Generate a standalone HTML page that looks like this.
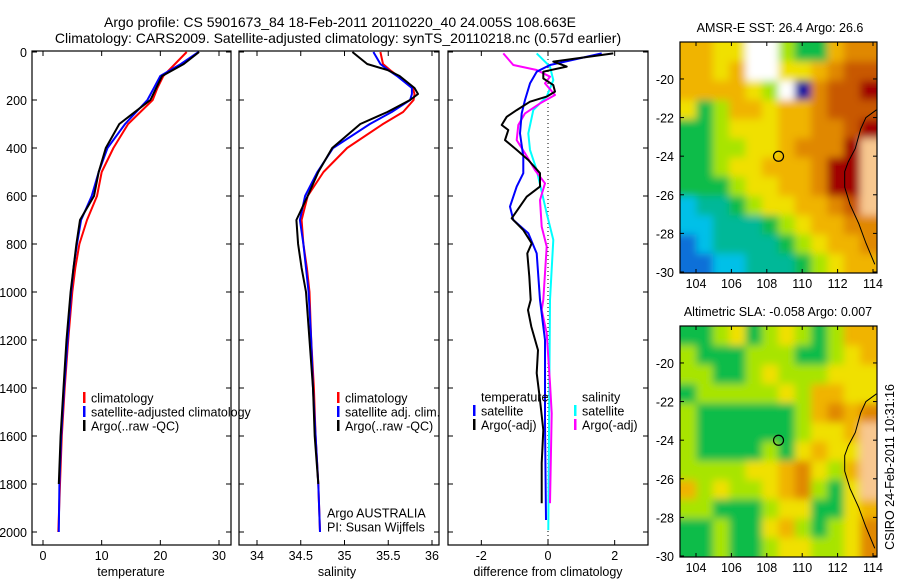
<!DOCTYPE html>
<html><head><meta charset="utf-8">
<style>
html,body{margin:0;padding:0;background:#fff;}
svg{display:block;font-family:"Liberation Sans",sans-serif;}
</style></head>
<body>
<svg id="fig" width="900" height="580" viewBox="0 0 900 580">
<defs>
<filter id="blur" x="-10%" y="-10%" width="120%" height="120%"><feGaussianBlur stdDeviation="4"/></filter>
<clipPath id="clip-sst"><rect x="680" y="42" width="197" height="231"/></clipPath>
<clipPath id="clip-sla"><rect x="680" y="326" width="197" height="231"/></clipPath>
</defs>
<text x="340" y="27" font-size="14" text-anchor="middle">Argo profile: CS 5901673_84 18-Feb-2011 20110220_40 24.005S 108.663E</text>
<text x="338" y="43" font-size="14" text-anchor="middle">Climatology: CARS2009. Satellite-adjusted climatology: synTS_20110218.nc (0.57d earlier)</text>
<text x="780" y="32" font-size="12.5" text-anchor="middle">AMSR-E SST: 26.4  Argo: 26.6</text>
<text x="778" y="316" font-size="12.5" text-anchor="middle">Altimetric SLA: -0.058  Argo: 0.007</text>
<text x="131" y="576" font-size="12.5" text-anchor="middle">temperature</text>
<text x="337" y="576" font-size="12.5" text-anchor="middle">salinity</text>
<text x="548" y="576" font-size="12.5" text-anchor="middle">difference from climatology</text>
<text transform="translate(894,467) rotate(-90)" font-size="12.5" text-anchor="middle">CSIRO 24-Feb-2011 10:31:16</text>
<g id="layer"></g>
</svg>
<script>
// ---------- data ----------
const depths = [0,50,100,150,200,300,400,500,600,700,800,900,1000,1200,1400,1600,1800,2000];
const tempClim = [24.5,22.5,20.5,19.5,18.7,14.5,12,10,9.2,7.5,6.2,5.5,5.0,4.3,3.7,3.2,2.9,2.6];
const tempSat  = [26.5,23.5,20,18.9,17.8,14,11,9.5,8.3,6.5,5.8,5.2,4.8,4.2,3.6,3.1,2.8,2.7];
const argoDepths = [0,50,100,150,200,300,400,500,600,700,800,900,1000,1200,1400,1600,1800];
const tempArgo = [26.6,24,20.3,19.3,18.3,13,10.7,9.5,8.7,6.3,5.7,5.2,4.7,4.0,3.5,3.0,2.7];
const salDepths = [0,50,75,100,150,175,200,250,300,400,500,600,700,800,900,1000,1200,1400,1600,1800,2000];
const salClim = [35.41,35.44,35.52,35.61,35.78,35.80,35.79,35.67,35.44,35.03,34.76,34.58,34.51,34.53,34.57,34.60,34.62,34.65,34.67,34.70,34.72];
const salSat  = [35.33,35.41,35.50,35.60,35.77,35.77,35.75,35.54,35.29,34.87,34.69,34.55,34.49,34.53,34.56,34.59,34.62,34.64,34.67,34.70,34.72];
const salArgo = [35.09,35.26,35.49,35.63,35.80,35.84,35.75,35.49,35.18,34.86,34.70,34.58,34.45,34.47,34.51,34.56,34.60,34.64,34.66,34.70,34.71];
const dTempArgoDepth = [6,40,61,82,110,138,165,186,207,242,270,304,325,367,408,450,505,561,603,693,742,797,839,936,1033,1075,1144,1242,1338,1450,1575,1713,1880];
const dTempArgo = [1.96,0.16,0.56,-0.14,-0.14,0.16,0.21,-0.04,-0.54,-0.94,-1.24,-1.39,-1.19,-1.29,-0.94,-0.59,-0.24,-0.24,-0.64,-1.09,-0.74,-0.49,-0.62,-0.56,-0.52,-0.6,-0.5,-0.3,-0.34,-0.24,-0.14,-0.19,-0.19];
const dTempSatDepth = [6,54,82,131,200,256,339,436,505,561,644,700,755,839,1033,1200,1547,1950];
const dTempSat = [1.61,0.06,-0.34,-0.54,-0.69,-0.79,-0.84,-0.74,-0.74,-0.94,-1.14,-1.04,-0.59,-0.34,-0.24,-0.09,-0.09,-0.06];
const dSalArgoDepth = [6,54,75,103,131,179,214,256,304,367,422,492,547,617,728,811,1033,1075,1172,1380,1505,1880];
const dSalArgo = [-1.34,-1.04,-0.34,0.06,-0.09,0.21,-0.24,-0.69,-0.89,-0.94,-0.69,-0.39,-0.09,-0.24,-0.19,-0.04,-0.14,-0.19,-0.04,0.06,0.11,0.06];
const dSalSatDepth = [6,61,117,186,242,339,408,492,672,783,1033,1408,1992];
const dSalSat = [-0.34,0.06,0.16,-0.04,-0.44,-0.59,-0.54,-0.34,-0.04,0.16,0.06,0.04,0.01];
const depthTicks = [0,200,400,600,800,1000,1200,1400,1600,1800,2000];
const tempTicks = [0,10,20,30];
const salTicks = [34,34.5,35,35.5,36];
const salTickLabels = ["34","34.5","35","35.5","36"];
const diffTicks = [-2,0,2];
const lonTicks = [104,106,108,110,112,114];
const latTicks = [-20,-22,-24,-26,-28,-30];
const argoLon = 108.663, argoLat = -24.005;
const sstGrid = [
[7,7,6,6,-1,-1,5,4,4,7,8,8],
[7,7,6,7,-1,-1,6,6,7,8,9,9],
[7,7,7,7,6,5,-1,0,8,9,9,10],
[6,4,5,7,7,6,7,7,8,9,9,9],
[4,4,5,6,6,6,7,7,8,8,9,10],
[4,4,5,5,6,6,7,8,8,8,10,11],
[4,4,5,6,6,7,7,7,8,10,10,11],
[4,4,4,5,6,6,7,7,8,10,10,11],
[2,3,3,4,5,6,6,7,7,8,9,11],
[2,2,3,3,3,4,5,6,7,7,8,8],
[1,2,3,3,3,3,4,5,6,7,7,8],
[1,1,2,2,3,3,3,4,5,6,7,7]];
const slaGrid = [
[4,4,5,6,4,5,6,5,4,5,7,7],
[5,4,4,4,5,5,5,4,4,5,6,7],
[5,5,4,4,5,6,5,5,5,6,6,6],
[4,5,5,5,5,5,6,5,7,7,6,6],
[5,4,4,4,4,4,4,5,7,8,7,8],
[5,4,4,4,4,4,4,5,6,6,7,11],
[5,4,4,4,4,5,4,6,7,6,6,11],
[5,5,5,5,6,6,7,8,6,5,7,11],
[7,5,6,5,5,6,7,8,5,4,6,11],
[5,5,4,4,4,5,6,6,4,4,6,7],
[4,4,5,4,4,6,7,5,4,5,6,8],
[4,4,5,4,4,5,6,6,5,5,6,8]];
const coastLon = [114.2,113.6,113.3,113.0,112.6,112.4,112.4,112.7,113.2,113.6,114.1];
const coastLat = [-21.6,-22.0,-22.6,-23.6,-24.3,-24.8,-25.6,-26.5,-27.5,-28.5,-29.6];

// ---------- helpers ----------
const NS="http://www.w3.org/2000/svg";
const layer=document.getElementById('layer');
function mk(tag,attrs,parent){const e=document.createElementNS(NS,tag);for(const k in attrs)e.setAttribute(k,attrs[k]);(parent||layer).appendChild(e);return e;}
function lin(d0,d1,r0,r1){return v=>r0+(v-d0)*(r1-r0)/(d1-d0);}
const PT=51, PB=545;
const yD = lin(0,2000,52,532);

function panel(name,x0,x1,xs,xticks,xlabels,showY){
  const g=mk('g',{});
  
  
  const r=mk('rect',{x:x0,y:PT,width:x1-x0,height:PB-PT,fill:'none',stroke:'#000','stroke-width':1.2},g);
  
  
  depthTicks.forEach(d=>{
    const y=yD(d);
    mk('line',{x1:x0,x2:x0+5,y1:y,y2:y,stroke:'#000'},g);
    mk('line',{x1:x1,x2:x1-5,y1:y,y2:y,stroke:'#000'},g);
    if(showY){const t=mk('text',{x:x0-5,y:y+5,'font-size':12.5,'text-anchor':'end'},g);t.textContent=d;
      
      }
  });
  xticks.forEach((v,i)=>{
    const x=xs(v);
    mk('line',{x1:x,x2:x,y1:PB,y2:PB-5,stroke:'#000'},g);
    mk('line',{x1:x,x2:x,y1:PT,y2:PT+5,stroke:'#000'},g);
    const t=mk('text',{x:x,y:PB+15,'font-size':12.5,'text-anchor':'middle'},g);t.textContent=xlabels[i];
    
    
  });
  return g;
}
function line(g,xs,vals,deps,color,w,name){
  const pts=vals.map((v,i)=>xs(v).toFixed(1)+','+yD(deps[i]).toFixed(1)).join(' ');
  const p=mk('polyline',{points:pts,fill:'none',stroke:color,'stroke-width':w,'stroke-linejoin':'round'},g);
  
  
}
function legend(g,x,y,items,name){
  items.forEach((it,i)=>{
    const yy=y+i*14;
    if(it[1])mk('rect',{x:x,y:yy-6,width:2.5,height:11,fill:it[1]},g);
    const t=mk('text',{x:x+8,y:yy+4.5,'font-size':12.5},g);t.textContent=it[0];
    
    
  });
}

// temperature panel
const xT=lin(0,30,43,219);
const gT=panel('temperature',32,231,xT,tempTicks,tempTicks.map(String),true);
line(gT,xT,tempClim,depths,'#ff0000',2,'temperature-climatology-line');
line(gT,xT,tempSat,depths,'#0000ff',2,'temperature-satellite-line');
line(gT,xT,tempArgo,argoDepths,'#000',2,'temperature-argo-line');
legend(gT,83,398,[['climatology','#f00'],['satellite-adjusted climatology','#00f'],['Argo(..raw -QC)','#000']],'temperature-legend');

// salinity panel
const xS=lin(34,36,257,432);
const gS=panel('salinity',239,439,xS,salTicks,salTickLabels,false);
line(gS,xS,salClim,salDepths,'#ff0000',2,'salinity-climatology-line');
line(gS,xS,salSat,salDepths,'#0000ff',2,'salinity-satellite-line');
line(gS,xS,salArgo.slice(0,20),salDepths.slice(0,20),'#000',2,'salinity-argo-line');
legend(gS,337,398,[['climatology','#f00'],['satellite adj. clim.','#00f'],['Argo(..raw -QC)','#000']],'salinity-legend');
legend(gS,319,513,[['Argo AUSTRALIA',null],['PI: Susan Wijffels',null]],'pi-note');

// difference panel
const xDf=lin(-3,3,448,648);
const gD=panel('difference',448,648,xDf,diffTicks,diffTicks.map(String),false);
const zl=mk('line',{x1:xDf(0),x2:xDf(0),y1:PT,y2:PB,stroke:'#000','stroke-dasharray':'1,3'},gD);


line(gD,xDf,dSalSat,dSalSatDepth,'#00ffff',2,'salinity-satellite-diff-line');
line(gD,xDf,dSalArgo,dSalArgoDepth,'#ff00ff',2,'salinity-argo-diff-line');
line(gD,xDf,dTempSat,dTempSatDepth,'#0000ff',2,'temperature-satellite-diff-line');
line(gD,xDf,dTempArgo,dTempArgoDepth,'#000',2,'temperature-argo-diff-line');
legend(gD,473,397,[['temperature',null],['satellite','#00f'],['Argo(-adj)','#000']],'diff-temperature-legend');
legend(gD,574,397,[['salinity',null],['satellite','#0ff'],['Argo(-adj)','#f0f']],'diff-salinity-legend');

// maps
const cmap={'-1':'#ffffff',0:'#0010a0',1:'#1070d8',2:'#00c0e8',3:'#00b898',4:'#10bc48',5:'#a8e400',6:'#f0e000',7:'#f0b400',8:'#e08800',9:'#c85800',10:'#a00000',11:'#f8c890'};
function mapPanel(name,y0,y1,grid){
  const g=mk('g',{});
  
  
  const x0=680,x1=877;
  const xL=lin(104,114,696,873);
  const yL=lin(-20,-30,y0+(y1-y0)*0.16,y1-1);
  const lonMin=103.1, lonMax=114.2, latTop=-18.1, latBot=-30.05;
  const nr=grid.length,nc=grid[0].length;
  const dlon=(lonMax-lonMin)/nc, dlat=(latTop-latBot)/nr;
  const clipG=mk('g',{'clip-path':'url(#clip-'+name+')'},g);
  const cells=mk('g',{filter:'url(#blur)'},clipG);
  grid.forEach((row,r)=>row.forEach((v,c)=>{
    let xa=xL(lonMin+c*dlon), xb=xL(lonMin+(c+1)*dlon);
    let ya=yL(latTop-r*dlat), yb=yL(latTop-(r+1)*dlat);
    if(c===0)xa-=12; if(c===nc-1)xb+=12; if(r===0)ya-=12; if(r===nr-1)yb+=12;
    const cell=mk('rect',{x:xa.toFixed(1),y:ya.toFixed(1),width:(xb-xa+0.6).toFixed(1),height:(yb-ya+0.6).toFixed(1),fill:cmap[v]},cells);
    
    
  }));
  const cp=coastLon.map((lo,i)=>xL(lo).toFixed(1)+','+yL(coastLat[i]).toFixed(1)).join(' ');
  const c=mk('polyline',{points:cp,fill:'none',stroke:'#000','stroke-width':1},g);
  
  
  const fr=mk('rect',{x:x0,y:y0,width:x1-x0,height:y1-y0,fill:'none',stroke:'#000','stroke-width':1.2},g);
  
  
  lonTicks.forEach(lo=>{
    const x=xL(lo);
    mk('line',{x1:x,x2:x,y1:y1,y2:y1-4,stroke:'#000'},g);
    mk('line',{x1:x,x2:x,y1:y0,y2:y0+4,stroke:'#000'},g);
    const t=mk('text',{x:x,y:y1+15,'font-size':12.5,'text-anchor':'middle'},g);t.textContent=lo;
    
    
  });
  latTicks.forEach(la=>{
    const y=yL(la);
    mk('line',{x1:x0,x2:x0+4,y1:y,y2:y,stroke:'#000'},g);
    mk('line',{x1:x1,x2:x1-4,y1:y,y2:y,stroke:'#000'},g);
    const t=mk('text',{x:x0-6,y:y+5,'font-size':12.5,'text-anchor':'end'},g);t.textContent=la;
    
    
  });
  const m=mk('circle',{cx:xL(argoLon),cy:yL(argoLat),r:5,fill:'none',stroke:'#000','stroke-width':1.2},g);
  
  
}
mapPanel('sst',42,273,sstGrid);
mapPanel('sla',326,557,slaGrid);
</script>
</body></html>
